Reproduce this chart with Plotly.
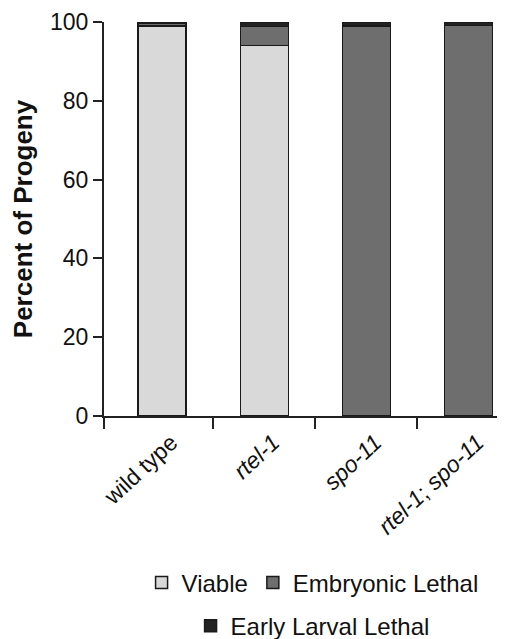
import plotly.graph_objects as go

categories = ["wild type", "<i>rtel-1</i>", "<i>spo-11</i>", "<i>rtel-1</i>; <i>spo-11</i>"]
viable = [99.0, 94.1, 0.0, 0.0]
embryonic = [0.7, 4.7, 99.0, 99.1]
larval = [0.3, 1.2, 1.0, 0.9]
y_ticks = [0, 20, 40, 60, 80, 100]

xpos = list(range(len(categories)))
FONT = "Liberation Sans, Arial, sans-serif"
line = dict(color="#1a1a1a", width=1.5)
W = 0.47

fig = go.Figure()
fig.add_trace(go.Bar(x=xpos, y=viable, name="Viable", width=W,
                     marker=dict(color="#d9d9d9", line=line), legend="legend"))
fig.add_trace(go.Bar(x=xpos, y=embryonic, name="Embryonic Lethal", width=W,
                     marker=dict(color="#6e6e6e", line=line), legend="legend"))
fig.add_trace(go.Bar(x=xpos, y=larval, name="Early Larval Lethal", width=W,
                     marker=dict(color="#222222", line=line), legend="legend2"))

fig.update_layout(
    barmode="stack",
    width=528, height=639,
    margin=dict(l=104, r=31, t=22, b=223, autoexpand=False),
    paper_bgcolor="white", plot_bgcolor="white",
    font=dict(family=FONT, size=23, color="#111"),
    legend=dict(orientation="h", xref="container", yref="container",
                x=0.592, y=0.0876, xanchor="center", yanchor="middle",
                font=dict(size=24), traceorder="normal", itemclick=False),
    legend2=dict(orientation="h", xref="container", yref="container",
                 x=0.592, y=0.0203, xanchor="center", yanchor="middle",
                 font=dict(size=24), itemclick=False),
    xaxis=dict(range=[-0.57, 3.28], tickmode="array", tickvals=xpos, ticktext=categories,
               ticks="", tickangle=-43, showline=True, linecolor="#222", linewidth=2,
               showgrid=False, zeroline=False, tickfont=dict(size=23), automargin=False,
               ticklabelstandoff=2, ticklabelshift=9,
               minor=dict(tickmode="array", tickvals=[-0.57, 0.5, 1.5, 2.5], ticks="outside",
                          ticklen=11, tickwidth=2, tickcolor="#222", showgrid=False)),
    yaxis=dict(range=[0, 100], tickvals=y_ticks, ticks="outside", ticklen=9, tickwidth=2,
               tickcolor="#222", showline=True, linecolor="#222", linewidth=2,
               showgrid=False, zeroline=False, tickfont=dict(size=23), automargin=False,
               title=dict(text="<b>Percent of Progeny</b>", font=dict(size=26), standoff=10)),
)

fig.write_html("out.html")
